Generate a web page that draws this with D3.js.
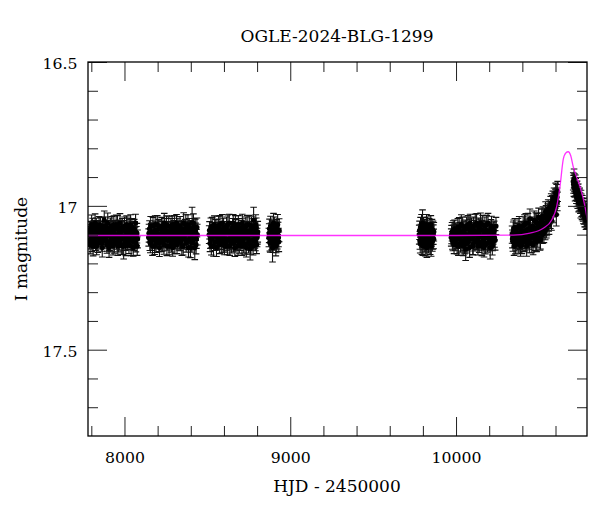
<!DOCTYPE html>
<html><head><meta charset="utf-8">
<script src="https://cdn.jsdelivr.net/npm/d3@7"></script>
<style>body{margin:0;background:#fff}</style>
</head><body>
<script>
// ---- data (HJD-2450000, I mag, error) ----
const season1 = [[7786,17.10,.028],[7790,17.12,.030],[7795,17.08,.026],[7799,17.11,.031],[7804,17.13,.029],[7808,17.07,.027],[7813,17.09,.030],[7817,17.12,.028],[7823,17.06,.032],[7828,17.10,.027],[7832,17.14,.030],[7838,17.08,.029],[7842,17.11,.033],[7847,17.065,.028],[7853,17.12,.030],[7858,17.09,.036],[7863,17.13,.028],[7868,17.07,.030],[7873,17.10,.034],[7878,17.05,.032],[7884,17.115,.029],[7889,17.085,.031],[7894,17.135,.030],[7899,17.06,.035],[7905,17.10,.028],[7910,17.125,.030],[7915,17.075,.033],[7920,17.11,.029],[7926,17.09,.040],[7931,17.14,.031],[7936,17.065,.030],[7941,17.105,.034],[7947,17.08,.029],[7952,17.12,.031],[7958,17.07,.036],[7963,17.13,.030],[7968,17.095,.028],[7973,17.06,.033],[7979,17.115,.030],[7984,17.085,.032],[7989,17.14,.029],[7995,17.14,.045],[8000,17.07,.031],[8005,17.125,.030],[8011,17.09,.034],[8016,17.11,.029],[8021,17.075,.033],[8027,17.135,.031],[8032,17.10,.030],[8037,17.065,.034],[8043,17.12,.032],[8048,17.09,.035],[8053,17.145,.030],[8059,17.08,.033],[8064,17.11,.036],[8069,17.13,.030],[8075,17.095,.034],[8079,17.115,.031]];
const season1b = [[7788,17.085,.030],[7793,17.135,.032],[7797,17.095,.029],[7802,17.065,.033],[7806,17.115,.030],[7811,17.14,.034],[7815,17.08,.029],[7820,17.105,.031],[7825,17.125,.030],[7830,17.075,.033],[7835,17.095,.030],[7840,17.13,.032],[7845,17.09,.029],[7850,17.105,.031],[7855,17.075,.034],[7861,17.11,.030],[7866,17.145,.033],[7871,17.085,.031],[7876,17.12,.029],[7881,17.095,.035],[7886,17.07,.031],[7892,17.105,.030],[7897,17.125,.033],[7902,17.08,.029],[7907,17.145,.034],[7912,17.095,.031],[7918,17.13,.030],[7923,17.07,.033],[7928,17.115,.031],[7934,17.085,.030],[7939,17.13,.035],[7944,17.10,.031],[7950,17.065,.033],[7955,17.11,.029],[7960,17.14,.032],[7966,17.08,.031],[7971,17.12,.034],[7976,17.10,.030],[7981,17.135,.033],[7987,17.075,.031],[7992,17.11,.030],[7997,17.085,.034],[8003,17.105,.031],[8008,17.14,.033],[8013,17.065,.030],[8019,17.12,.032],[8024,17.095,.031],[8029,17.08,.034],[8035,17.115,.030],[8040,17.14,.033],[8045,17.075,.031],[8051,17.10,.032],[8056,17.125,.030],[8061,17.09,.035],[8067,17.06,.031],[8072,17.105,.033],[8077,17.14,.032]];
const season2 = [[8146,17.11,.030],[8151,17.08,.028],[8156,17.13,.033],[8161,17.09,.029],[8166,17.12,.035],[8172,17.07,.030],[8177,17.105,.031],[8182,17.14,.029],[8187,17.085,.032],[8193,17.115,.030],[8198,17.065,.031],[8203,17.10,.034],[8208,17.13,.029],[8214,17.08,.031],[8219,17.11,.033],[8224,17.07,.030],[8230,17.125,.032],[8235,17.095,.029],[8240,17.06,.034],[8246,17.115,.031],[8251,17.085,.030],[8256,17.14,.033],[8261,17.10,.029],[8267,17.07,.032],[8272,17.12,.030],[8277,17.09,.035],[8283,17.13,.031],[8288,17.065,.030],[8293,17.105,.033],[8298,17.08,.029],[8304,17.135,.031],[8309,17.095,.034],[8314,17.06,.030],[8320,17.115,.032],[8325,17.085,.031],[8330,17.125,.029],[8335,17.07,.033],[8341,17.10,.030],[8346,17.14,.032],[8351,17.09,.031],[8357,17.06,.036],[8362,17.115,.030],[8367,17.08,.033],[8372,17.13,.031],[8378,17.095,.030],[8383,17.065,.034],[8388,17.12,.032],[8393,17.085,.031],[8398,17.145,.035],[8404,17.10,.030],[8408,17.06,.055],[8413,17.12,.033],[8418,17.075,.031],[8424,17.145,.042],[8429,17.09,.030],[8434,17.115,.033],[8439,17.10,.036]];
const season2b = [[8148,17.095,.031],[8153,17.125,.030],[8158,17.07,.033],[8164,17.105,.029],[8169,17.14,.032],[8174,17.09,.031],[8180,17.115,.034],[8185,17.065,.030],[8190,17.13,.032],[8195,17.095,.031],[8200,17.12,.029],[8206,17.08,.033],[8211,17.145,.031],[8216,17.10,.030],[8222,17.125,.034],[8227,17.085,.031],[8232,17.11,.030],[8238,17.135,.033],[8243,17.075,.031],[8248,17.10,.032],[8254,17.065,.030],[8259,17.12,.034],[8264,17.09,.031],[8269,17.14,.030],[8275,17.105,.033],[8280,17.075,.031],[8285,17.115,.032],[8291,17.145,.030],[8296,17.09,.034],[8301,17.065,.031],[8307,17.12,.030],[8312,17.10,.033],[8317,17.135,.031],[8322,17.075,.032],[8328,17.105,.030],[8333,17.095,.034],[8338,17.125,.031],[8344,17.08,.030],[8349,17.115,.033],[8354,17.14,.031],[8360,17.085,.032],[8365,17.10,.030],[8370,17.065,.034],[8375,17.12,.031],[8381,17.09,.030],[8386,17.145,.033],[8391,17.075,.031],[8396,17.11,.032],[8401,17.085,.034],[8406,17.13,.031],[8411,17.095,.035],[8416,17.06,.032],[8421,17.115,.031],[8427,17.08,.034],[8432,17.135,.032],[8437,17.075,.033]];
const season3 = [[8511,17.10,.031],[8516,17.13,.029],[8521,17.075,.033],[8526,17.115,.030],[8532,17.09,.032],[8537,17.14,.035],[8542,17.065,.030],[8547,17.105,.031],[8553,17.125,.029],[8558,17.08,.033],[8563,17.11,.030],[8568,17.07,.034],[8574,17.135,.031],[8579,17.095,.029],[8584,17.12,.032],[8590,17.06,.030],[8595,17.10,.033],[8600,17.13,.031],[8605,17.085,.030],[8611,17.115,.034],[8616,17.07,.031],[8621,17.14,.030],[8627,17.095,.032],[8632,17.06,.031],[8637,17.12,.033],[8642,17.085,.030],[8648,17.11,.035],[8653,17.075,.031],[8658,17.13,.030],[8664,17.10,.033],[8669,17.065,.031],[8674,17.12,.034],[8679,17.09,.030],[8685,17.14,.032],[8690,17.075,.031],[8695,17.105,.033],[8701,17.125,.030],[8706,17.085,.034],[8711,17.06,.031],[8716,17.115,.032],[8722,17.095,.030],[8727,17.135,.033],[8732,17.07,.031],[8738,17.11,.036],[8743,17.09,.030],[8748,17.13,.034],[8753,17.065,.032],[8758,17.15,.038],[8764,17.10,.031],[8769,17.08,.035],[8774,17.12,.033],[8779,17.05,.045],[8784,17.095,.034],[8790,17.125,.031],[8795,17.075,.033],[8800,17.11,.032],[8804,17.09,.036]];
const season3b = [[8513,17.085,.030],[8518,17.115,.033],[8524,17.14,.031],[8529,17.07,.030],[8534,17.105,.034],[8540,17.095,.031],[8545,17.125,.030],[8550,17.08,.033],[8555,17.145,.031],[8561,17.09,.032],[8566,17.12,.030],[8571,17.10,.034],[8576,17.065,.031],[8582,17.085,.030],[8587,17.13,.033],[8592,17.11,.031],[8598,17.075,.032],[8603,17.14,.030],[8608,17.095,.034],[8613,17.125,.031],[8619,17.085,.030],[8624,17.065,.033],[8629,17.115,.031],[8635,17.14,.032],[8640,17.10,.030],[8645,17.13,.034],[8650,17.09,.031],[8656,17.06,.030],[8661,17.115,.033],[8666,17.145,.031],[8671,17.08,.032],[8677,17.105,.030],[8682,17.12,.034],[8687,17.065,.031],[8693,17.135,.030],[8698,17.09,.033],[8703,17.11,.031],[8709,17.14,.032],[8714,17.075,.030],[8719,17.13,.034],[8724,17.10,.031],[8730,17.085,.030],[8735,17.145,.033],[8740,17.065,.031],[8745,17.105,.032],[8751,17.12,.034],[8756,17.085,.031],[8761,17.135,.033],[8766,17.07,.032],[8771,17.10,.034],[8776,17.14,.031],[8782,17.08,.036],[8787,17.115,.032],[8792,17.065,.034],[8797,17.135,.031],[8802,17.10,.033]];
const season4 = [[8871,17.11,.032],[8875,17.08,.034],[8879,17.13,.031],[8884,17.095,.035],[8888,17.12,.033],[8893,17.145,.050],[8897,17.085,.032],[8902,17.115,.034],[8906,17.07,.031],[8911,17.10,.036],[8915,17.13,.033],[8920,17.09,.034],[8924,17.065,.035],[8929,17.11,.032],[8933,17.085,.040]];
const season4b = [[8873,17.095,.033],[8877,17.125,.032],[8881,17.07,.034],[8886,17.105,.031],[8890,17.085,.035],[8895,17.13,.032],[8899,17.06,.034],[8904,17.12,.033],[8908,17.095,.031],[8913,17.14,.034],[8918,17.08,.032],[8922,17.115,.035],[8927,17.09,.033],[8931,17.125,.034]];
const season5 = [[9778,17.10,.033],[9782,17.12,.031],[9786,17.075,.035],[9790,17.105,.032],[9794,17.135,.034],[9798,17.06,.046],[9802,17.09,.031],[9806,17.12,.033],[9810,17.08,.032],[9814,17.14,.034],[9818,17.10,.031],[9822,17.065,.035],[9826,17.115,.033],[9830,17.09,.032],[9834,17.13,.034],[9838,17.075,.031],[9842,17.11,.036],[9846,17.095,.032],[9850,17.14,.035],[9855,17.08,.033],[9859,17.12,.031],[9863,17.10,.034],[9866,17.09,.032]];
const season5b = [[9780,17.085,.032],[9784,17.13,.034],[9788,17.095,.031],[9792,17.065,.035],[9796,17.11,.033],[9800,17.14,.032],[9804,17.075,.034],[9808,17.105,.031],[9812,17.125,.035],[9816,17.085,.033],[9820,17.115,.032],[9824,17.145,.034],[9828,17.07,.031],[9832,17.10,.035],[9836,17.12,.033],[9840,17.09,.032],[9844,17.135,.034],[9848,17.065,.031],[9852,17.105,.035],[9857,17.125,.033],[9861,17.085,.032],[9865,17.115,.034]];
const season6 = [[9971,17.11,.030],[9976,17.09,.032],[9981,17.125,.031],[9986,17.10,.033],[9991,17.08,.031],[9996,17.12,.034],[10001,17.095,.030],[10006,17.135,.032],[10011,17.075,.031],[10017,17.11,.034],[10022,17.09,.032],[10027,17.13,.031],[10032,17.065,.034],[10038,17.10,.030],[10043,17.14,.033],[10048,17.085,.032],[10053,17.12,.034],[10058,17.15,.040],[10064,17.07,.031],[10069,17.105,.033],[10074,17.125,.032],[10080,17.08,.034],[10085,17.06,.031],[10090,17.115,.033],[10095,17.095,.032],[10101,17.135,.034],[10106,17.07,.031],[10111,17.10,.033],[10116,17.065,.036],[10122,17.12,.032],[10127,17.09,.034],[10132,17.14,.031],[10137,17.075,.033],[10143,17.105,.032],[10148,17.06,.035],[10153,17.125,.031],[10158,17.085,.034],[10164,17.11,.032],[10169,17.145,.033],[10174,17.07,.031],[10179,17.10,.034],[10185,17.065,.032],[10190,17.13,.031],[10195,17.09,.033],[10200,17.115,.036],[10206,17.145,.040],[10211,17.08,.032],[10216,17.105,.034],[10221,17.125,.031],[10227,17.09,.033],[10232,17.11,.034],[10241,17.07,.030]];
const season6b = [[9973,17.10,.032],[9978,17.12,.031],[9983,17.085,.033],[9988,17.135,.031],[9993,17.105,.032],[9998,17.09,.030],[10004,17.115,.033],[10009,17.095,.031],[10014,17.14,.032],[10019,17.075,.034],[10024,17.115,.031],[10030,17.09,.033],[10035,17.125,.032],[10040,17.07,.031],[10045,17.105,.034],[10051,17.135,.032],[10056,17.08,.031],[10061,17.10,.033],[10066,17.13,.034],[10072,17.065,.031],[10077,17.115,.032],[10082,17.145,.034],[10087,17.09,.031],[10093,17.075,.033],[10098,17.11,.032],[10103,17.14,.031],[10108,17.085,.034],[10114,17.125,.032],[10119,17.10,.031],[10124,17.06,.033],[10130,17.115,.034],[10135,17.095,.031],[10140,17.13,.032],[10145,17.08,.034],[10151,17.105,.031],[10156,17.14,.033],[10161,17.065,.032],[10166,17.12,.031],[10172,17.095,.034],[10177,17.135,.032],[10182,17.085,.031],[10187,17.11,.033],[10193,17.06,.034],[10198,17.125,.031],[10203,17.095,.033],[10208,17.115,.032],[10214,17.07,.034],[10219,17.14,.031],[10224,17.10,.033],[10230,17.085,.032],[10236,17.12,.034]];
const season7 = [[10338,17.10,.030],[10343,17.125,.033],[10348,17.08,.031],[10353,17.11,.034],[10358,17.135,.032],[10363,17.09,.030],[10368,17.115,.033],[10374,17.075,.031],[10379,17.13,.034],[10384,17.10,.032],[10389,17.14,.035],[10394,17.085,.031],[10400,17.115,.033],[10405,17.07,.032],[10410,17.125,.034],[10415,17.095,.031],[10421,17.06,.033],[10426,17.14,.035],[10431,17.105,.032],[10436,17.08,.034],[10441,17.12,.031],[10446,17.045,.034],[10452,17.095,.032],[10457,17.13,.033],[10462,17.07,.031],[10467,17.105,.034],[10472,17.05,.032],[10478,17.12,.035],[10483,17.085,.031],[10488,17.06,.033],[10493,17.11,.034],[10498,17.04,.032],[10504,17.09,.033],[10509,17.115,.035],[10514,17.055,.031],[10519,17.075,.034],[10524,17.035,.032],[10530,17.095,.033],[10535,17.06,.031],[10540,17.02,.034],[10545,17.08,.032],[10550,17.045,.033],[10556,17.01,.031],[10561,17.065,.034],[10566,17.03,.032],[10571,17.00,.033],[10576,17.05,.035],[10581,16.995,.031],[10586,17.025,.034],[10591,16.97,.032],[10596,17.00,.033],[10601,16.955,.034],[10605,17.03,.040],[10609,16.97,.032],[10613,16.95,.035]];
const season7b = [[10340,17.115,.031],[10345,17.09,.034],[10350,17.14,.032],[10355,17.075,.031],[10360,17.105,.033],[10366,17.125,.032],[10371,17.095,.034],[10376,17.11,.031],[10381,17.07,.033],[10386,17.12,.032],[10392,17.105,.034],[10397,17.135,.031],[10402,17.09,.033],[10407,17.11,.032],[10413,17.065,.034],[10418,17.125,.031],[10423,17.085,.033],[10428,17.115,.032],[10434,17.06,.034],[10439,17.10,.031],[10444,17.13,.033],[10449,17.075,.032],[10455,17.11,.034],[10460,17.09,.031],[10465,17.135,.035],[10470,17.08,.032],[10475,17.10,.033],[10481,17.055,.031],[10486,17.125,.034],[10491,17.075,.032],[10496,17.095,.033],[10501,17.065,.031],[10507,17.12,.034],[10512,17.08,.032],[10517,17.045,.033],[10522,17.10,.031],[10527,17.065,.034],[10533,17.04,.032],[10538,17.085,.033],[10543,17.03,.031],[10548,17.07,.034],[10553,17.025,.032],[10559,17.055,.033],[10564,17.015,.031],[10569,17.045,.034],[10574,16.99,.032],[10579,17.02,.033],[10584,16.98,.031],[10589,17.005,.034],[10594,16.985,.032],[10599,16.975,.033],[10603,17.00,.031],[10607,16.96,.034],[10611,16.985,.032]];
const season8 = [[10707,16.915,.030],[10711,16.935,.032],[10714,16.92,.031],[10718,16.95,.033],[10722,16.935,.030],[10726,16.96,.032],[10730,16.945,.031],[10734,16.975,.034],[10738,16.955,.031],[10742,16.985,.033],[10746,16.97,.032],[10750,16.995,.031],[10754,16.98,.034],[10758,17.005,.032],[10762,16.995,.031],[10766,17.02,.033],[10770,17.005,.032],[10774,17.03,.034],[10778,17.015,.031],[10782,17.04,.033],[10786,17.025,.032],[10789,17.045,.034]];
const season8b = [[10709,16.925,.031],[10712,16.905,.033],[10716,16.94,.030],[10720,16.925,.032],[10724,16.95,.031],[10728,16.97,.033],[10732,16.955,.030],[10736,16.965,.032],[10740,16.99,.031],[10744,16.975,.033],[10748,16.985,.030],[10752,17.01,.032],[10756,16.99,.031],[10760,17.015,.033],[10764,17.005,.030],[10768,17.03,.032],[10772,17.015,.031],[10776,17.04,.033],[10780,17.03,.030],[10784,17.05,.032],[10788,17.035,.031]];

// model curve
const modelT = [7780, 9000, 10000, 10345, 10446, 10526, 10577, 10607, 10627, 10647, 10662, 10677, 10692, 10707, 10728, 10748, 10778, 10792];
const modelM = [17.103, 17.103, 17.103, 17.102, 17.095, 17.078, 17.049, 17.003, 16.933, 16.838, 16.816, 16.812, 16.826, 16.864, 16.900, 16.933, 17.003, 17.049];

// axes
const xMajor = [8000, 9000, 10000];
const xMinor = [7800,8200,8400,8600,8800,9200,9400,9600,9800,10200,10400,10600];
const yMajor = [16.5, 17, 17.5];
const yMinor = [16.6,16.7,16.8,16.9,17.1,17.2,17.3,17.4,17.6,17.7];
const titleText = "OGLE-2024-BLG-1299";
const xLabel = "HJD - 2450000";
const yLabel = "I magnitude";

// ---- drawing ----
const W = 600, H = 512;
const L = 88, R = 587, T = 62, B = 436;
const FONT = "'DejaVu Serif', serif";
const x = d3.scaleLinear().domain([7780, 10790]).range([L, R]);
const y = d3.scaleLinear().domain([16.5, 17.8]).range([T, B]);

const svg = d3.select("body").append("svg").attr("width", W).attr("height", H);
svg.append("defs").append("clipPath").attr("id", "clip")
  .append("rect").attr("x", L).attr("y", T).attr("width", R - L).attr("height", B - T);

const data = [season1, season1b, season2, season2b, season3, season3b, season4, season4b,
              season5, season5b, season6, season6b, season7, season7b, season8, season8b].flat()
  .map(d => ({t: d[0], m: d[1], e: d[2]}));

const plot = svg.append("g").attr("clip-path", "url(#clip)");
const cap = 3.3;
const eb = plot.append("g").attr("stroke", "#111").attr("stroke-width", 1.1).attr("fill", "none");
eb.selectAll("path").data(data).join("path")
  .attr("d", d => {
    const cx = x(d.t), y1 = y(d.m - d.e), y2 = y(d.m + d.e);
    return `M${cx},${y1}V${y2}M${cx - cap},${y1}H${cx + cap}M${cx - cap},${y2}H${cx + cap}`;
  });
plot.append("g").selectAll("circle").data(data).join("circle")
  .attr("cx", d => x(d.t)).attr("cy", d => y(d.m)).attr("r", 2.6).attr("fill", "#000");

const model = modelT.map((t, i) => [t, modelM[i]]);
plot.append("path").datum(model)
  .attr("d", d3.line().x(d => x(d[0])).y(d => y(d[1])).curve(d3.curveMonotoneX))
  .attr("fill", "none").attr("stroke", "#ff00ff").attr("stroke-opacity", 0.8).attr("stroke-width", 1.3);

// ticks
function ax(gen, tr, vals, size, labels, pad) {
  const g = svg.append("g").attr("transform", tr)
    .call(gen.tickValues(vals).tickSize(size).tickSizeOuter(0).tickPadding(pad || 3)
      .tickFormat(labels ? (d => String(d)) : () => ""));
  g.select(".domain").remove();
  g.attr("font-family", FONT).attr("font-size", 15.7);
  g.selectAll("line").attr("stroke", "#222");
  g.selectAll("text").attr("fill", "#000");
  return g;
}
ax(d3.axisBottom(x), `translate(0,${B})`, xMajor, -19, true, 16);
ax(d3.axisBottom(x), `translate(0,${B})`, xMinor, -10, false);
ax(d3.axisTop(x), `translate(0,${T})`, xMajor, -19, false);
ax(d3.axisTop(x), `translate(0,${T})`, xMinor, -10, false);
const gl = ax(d3.axisLeft(y), `translate(${L},0)`, yMajor, -19, true, 10.5);
gl.selectAll("text").attr("dy", "0.42em");
ax(d3.axisLeft(y), `translate(${L},0)`, yMinor, -10, false);
ax(d3.axisRight(y), `translate(${R},0)`, yMajor, -19, false);
ax(d3.axisRight(y), `translate(${R},0)`, yMinor, -10, false);

svg.append("rect").attr("x", L).attr("y", T).attr("width", R - L).attr("height", B - T)
  .attr("fill", "none").attr("stroke", "#000").attr("stroke-width", 1.3);

svg.append("text").attr("x", 337).attr("y", 41.5).attr("text-anchor", "middle")
  .attr("font-family", FONT).attr("font-size", 17).text(titleText);
svg.append("text").attr("x", 337).attr("y", 491.5).attr("text-anchor", "middle")
  .attr("font-family", FONT).attr("font-size", 17).text(xLabel);
svg.append("text").attr("transform", "translate(27,249) rotate(-90)").attr("text-anchor", "middle")
  .attr("font-family", FONT).attr("font-size", 17).text(yLabel);
</script>
</body></html>
